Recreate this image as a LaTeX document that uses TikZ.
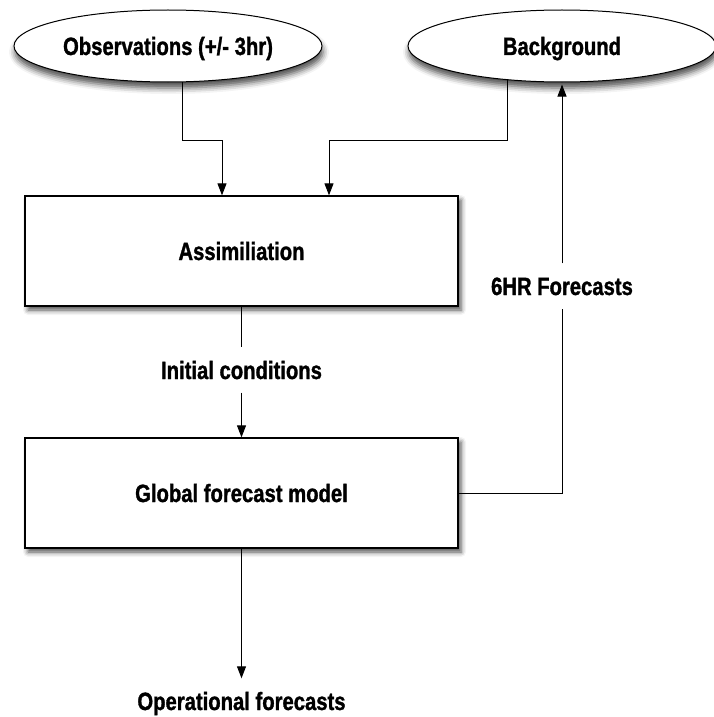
\documentclass[tikz,border=0pt]{standalone}
\usepackage{fontspec}
\setmainfont{Liberation Sans}[FakeStretch=0.81, BoldFeatures={FakeBold=1.2}]
\usetikzlibrary{shapes.geometric,arrows.meta,shadows.blur}
\begin{document}
\begin{tikzpicture}[x=1pt,y=-1pt,
  every node/.style={font=\fontsize{25}{28}\selectfont\bfseries, text height=18pt, text depth=0pt},
  oval/.style={ellipse, draw, line width=1pt, fill=white, inner sep=0pt,
    minimum width=308pt, minimum height=72pt,
    blur shadow={shadow xshift=1pt, shadow yshift=-6pt, shadow blur radius=6pt, shadow opacity=70}},
  box/.style={rectangle, draw, line width=1.3pt, fill=white, inner sep=0pt,
    minimum width=433pt, minimum height=110pt,
    blur shadow={shadow xshift=3pt, shadow yshift=-4pt, shadow blur radius=5pt, shadow opacity=70}},
  lbl/.style={anchor=base, inner xsep=0pt, inner ysep=13.5pt},
  conn/.style={line width=1pt},
  arr/.style={conn, -{Triangle[length=12pt,width=9pt]}}
]
\useasboundingbox (0,0) rectangle (714,717);

\node[oval] (obs) at (168,46) {Observations (+/- 3hr)};
\node[oval] (bg) at (562,46) {Background};
\node[box] (assim) at (241.5,251) {Assimiliation};
\node[box] (global) at (241.5,493) {Global forecast model};

\node[lbl] (ic) at (241.5,379) {Initial conditions};
\node[lbl] (fc) at (562,295) {6HR Forecasts};
\node[lbl] (op) at (241.5,710) {Operational forecasts};

\draw[arr] (obs.-68.7) |- (222,140) -- (222,140 |- assim.north);
\draw[arr] (bg.-148) |- (329,140) -- (329,140 |- assim.north);

\draw[conn] (assim.south) -- (ic.north);
\draw[arr] (ic.south) -- (global.north);

\draw[conn] (global.east) -| (fc.south);
\draw[arr, shorten >=2pt] (fc.north) -- (fc.north |- bg.south);

\draw[arr] (global.south) -- (op.north);
\end{tikzpicture}
\end{document}
